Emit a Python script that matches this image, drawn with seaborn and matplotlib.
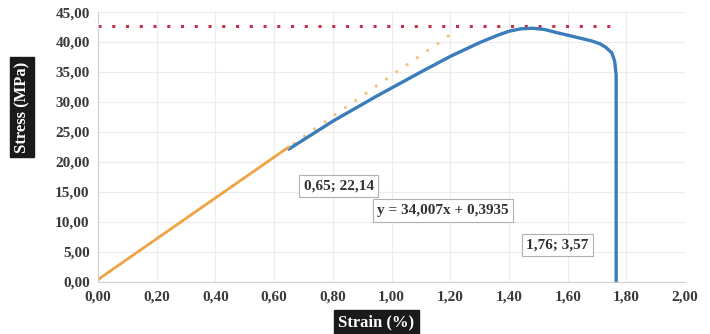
import matplotlib.pyplot as plt
import seaborn as sns

# elastic part of the test (orange)
elastic_strain = [0.00, 0.65]
elastic_stress = [0.39, 22.50]

# rest of the stress-strain curve (blue)
curve_strain = [0.65, 0.80, 0.95, 1.10, 1.20, 1.30, 1.36, 1.40, 1.44, 1.48, 1.52,
                1.56, 1.62, 1.68, 1.71, 1.73, 1.75, 1.76, 1.765, 1.765, 1.765]
curve_stress = [22.14, 26.8, 31.0, 35.0, 37.6, 39.9, 41.1, 41.8, 42.2, 42.3, 42.1,
                41.6, 40.9, 40.2, 39.7, 39.1, 38.2, 36.8, 34.5, 20.0, 0.0]

# linear trendline y = 34,007x + 0,3935 (dotted)
trend_strain = [0.00, 1.22]
trend_stress = [0.39, 41.9]

# max stress line (red dotted)
max_strain = [0.00, 1.745]
max_stress = [42.6, 42.6]

x_ticks = [0.0, 0.2, 0.4, 0.6, 0.8, 1.0, 1.2, 1.4, 1.6, 1.8, 2.0]
y_ticks = [0, 5, 10, 15, 20, 25, 30, 35, 40, 45]

sns.set_style("whitegrid")
plt.rcParams["font.family"] = ["Liberation Serif", "DejaVu Serif"]

fig = plt.figure(figsize=(7.1, 3.34), dpi=100)
ax = fig.add_axes([0.138, 0.156, 0.827, 0.808])

sns.lineplot(x=trend_strain, y=trend_stress, ax=ax, color="#f2c27a",
             linestyle=(0, (1, 3.5)), linewidth=2.0, sort=False, estimator=None)
sns.lineplot(x=max_strain, y=max_stress, ax=ax, color="#c8304a",
             linestyle=(0, (1, 3.5)), linewidth=2.2, sort=False, estimator=None)
sns.lineplot(x=curve_strain, y=curve_stress, ax=ax, color="#3b7dbb",
             linewidth=2.4, sort=False, estimator=None)
sns.lineplot(x=elastic_strain, y=elastic_stress, ax=ax, color="#eea548",
             linewidth=2.0, sort=False, estimator=None)

ax.set_xlim(0, 2.0)
ax.set_ylim(0, 45)
ax.set_xticks(x_ticks)
ax.set_yticks(y_ticks)
ax.set_xticklabels([f"{v:.2f}".replace(".", ",") for v in x_ticks])
ax.set_yticklabels([f"{v:.2f}".replace(".", ",") for v in y_ticks])
ax.tick_params(labelsize=11, colors="#3a3a3a", length=0, pad=6)
for lab in ax.get_xticklabels() + ax.get_yticklabels():
    lab.set_fontweight("bold")

ax.grid(True, color="#ececec", linewidth=0.8)
for side in ["top", "right"]:
    ax.spines[side].set_visible(False)
for side in ["left", "bottom"]:
    ax.spines[side].set_color("#d0d0d0")
    ax.spines[side].set_linewidth(0.8)
ax.set_xlabel("")
ax.set_ylabel("")

box = dict(boxstyle="square,pad=0.3", facecolor="white", edgecolor="#b0b0b0", linewidth=0.8)
ax.text(0.82, 16.0, "0,65; 22,14", ha="center", va="center", fontsize=11,
        fontweight="bold", color="#333333", bbox=box)
ax.text(1.175, 11.9, "y = 34,007x + 0,3935", ha="center", va="center", fontsize=11,
        fontweight="bold", color="#333333", bbox=box)
ax.text(1.565, 6.2, "1,76; 3,57", ha="center", va="center", fontsize=11,
        fontweight="bold", color="#333333", bbox=box)

lbl = dict(boxstyle="square,pad=0.25", facecolor="#1a1a1a", edgecolor="#1a1a1a")
fig.text(0.031, 0.68, "Stress (MPa)", rotation=90, ha="center", va="center",
         fontsize=12, fontweight="bold", color="white", bbox=lbl)
fig.text(0.53, 0.035, "Strain (%)", ha="center", va="center",
         fontsize=12, fontweight="bold", color="white", bbox=lbl)

fig.savefig("out.png", dpi=100)
